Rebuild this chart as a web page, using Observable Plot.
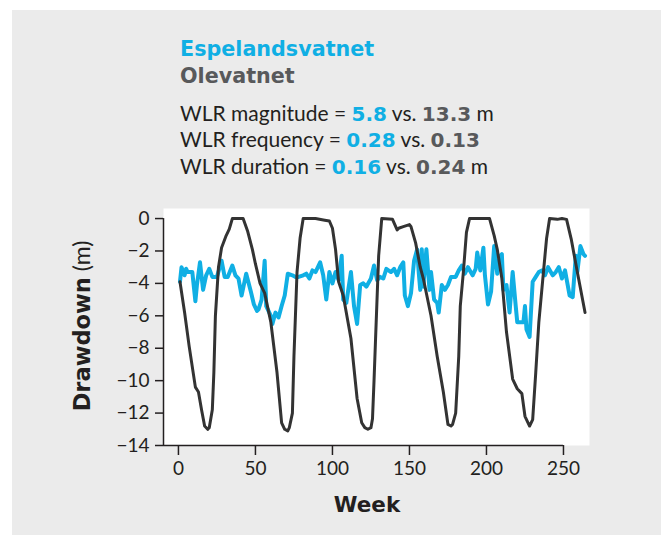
<!DOCTYPE html>
<html>
<head>
<meta charset="utf-8">
<script src="https://cdn.jsdelivr.net/npm/d3@7"></script>
<script src="https://cdn.jsdelivr.net/npm/@observablehq/plot@0.6"></script>
<style>
  body { margin: 0; background: #fff; }
  #wrap { position: relative; width: 661px; height: 535px; background: #fff; overflow: hidden; font-family: Lato, sans-serif; }
  #panel { position: absolute; left: 12px; top: 10px; width: 649px; height: 525px; background: #ebebeb; }
  .line { position: absolute; left: 180px; white-space: nowrap; line-height: 1; }
  .name { font-family: "DejaVu Sans", sans-serif; font-size: 20.7px; font-weight: bold; }
  .wlr { font-size: 21px; color: #231f20; }
  .wlr b { font-family: "DejaVu Sans", sans-serif; font-size: 20px; font-weight: bold; }
  .cb { color: #10afe4; }
  .cg { color: #58595b; }
  #chart { position: absolute; left: 0; top: 0; }
  #ylab { position: absolute; left: 82px; top: 326px; transform: translate(-50%, -50%) rotate(-90deg); white-space: nowrap; font-size: 23px; color: #231f20; line-height: 1; }
  #ylab b { font-family: "DejaVu Sans", sans-serif; font-weight: bold; font-size: 22.5px; }
  #xlab { position: absolute; left: 367px; top: 505px; transform: translate(-50%, -50%); font-family: "DejaVu Sans", sans-serif; font-size: 21.5px; font-weight: bold; color: #231f20; line-height: 1; }
</style>
</head>
<body>
<div id="wrap">
  <div id="panel"></div>
  <div class="line name cb" style="top:38.5px">Espelandsvatnet</div>
  <div class="line name cg" style="top:65.8px">Olevatnet</div>
  <div class="line wlr" style="top:102px">WLR magnitude = <b class="cb">5.8</b> vs. <b class="cg">13.3</b> m</div>
  <div class="line wlr" style="top:128px">WLR frequency = <b class="cb">0.28</b> vs. <b class="cg">0.13</b></div>
  <div class="line wlr" style="top:154.7px">WLR duration = <b class="cb">0.16</b> vs. <b class="cg">0.24</b> m</div>
  <div id="chart"></div>
  <div id="ylab"><b>Drawdown</b> (m)</div>
  <div id="xlab">Week</div>
</div>
<script>
// Espelandsvatnet (blue)
const weeksE = [1,2,4,5,6,9,11,12,14,16,18,20,22,25,28,30,32,35,37,39,41,44,47,49,51,52,54,56,57,60,61,63,65,67,69,71,74,76,78,81,83,85,87,89,92,94,96,98,100,102,104,106,107,109,112,114,116,118,120,122,125,127,129,131,133,135,138,140,142,144,146,147,149,151,153,155,156,157,158,159,160,161,163,164,166,168,169,171,173,175,177,180,182,184,186,188,191,193,194,196,198,199,201,203,205,207,209,210,211,213,215,217,219,220,222,224,225,226,228,230,232,234,236,238,240,243,245,247,249,251,254,256,258,259,261,263,264];
const drawE = [-3.9,-3.0,-3.5,-3.1,-3.3,-3.3,-5.1,-4.1,-2.7,-4.4,-3.5,-3.1,-3.6,-3.6,-2.6,-3.6,-3.6,-2.9,-3.5,-3.7,-4.75,-3.4,-4.5,-5.3,-5.7,-5.6,-5.0,-2.6,-5.4,-6.0,-6.5,-5.8,-6.1,-5.4,-4.75,-3.4,-3.5,-3.6,-3.6,-3.5,-3.4,-3.7,-3.2,-3.3,-2.7,-3.5,-5.0,-3.3,-4.0,-3.3,-3.8,-2.3,-5.0,-5.2,-3.3,-5.4,-6.5,-4.1,-4.0,-4.2,-3.7,-2.9,-3.8,-3.6,-3.7,-3.1,-3.3,-3.1,-3.5,-3.0,-2.7,-4.75,-5.4,-4.6,-2.6,-1.9,-3.3,-4.4,-1.9,-4.2,-3.0,-1.9,-4.4,-3.3,-5.0,-5.2,-5.8,-4.1,-4.4,-4.1,-3.6,-3.6,-3.2,-2.9,-3.4,-3.0,-3.5,-3.1,-2.1,-3.2,-1.8,-3.5,-5.3,-4.5,-1.7,-3.4,-2.3,-2.2,-4.4,-4.1,-5.8,-3.3,-5.4,-6.4,-6.4,-6.4,-5.4,-6.85,-7.3,-3.9,-3.6,-3.3,-3.2,-3.5,-3.0,-3.5,-3.3,-3.0,-3.7,-3.2,-4.75,-4.85,-2.3,-3.3,-1.7,-2.2,-2.3];
// Olevatnet (black)
const weeksO = [1,4,7,11,13,15,17,19,20,22,23,24,26,28,31,33,35,42,45,48,50,53,56,60,64,67,69,71,72,74,75,77,79,81,89,95,98,100,102,104,107,112,116,119,121,123,125,126,127,128,130,132,139,142,143,146,150,151,154,157,159,164,168,172,175,177,178,180,182,183,185,187,189,202,205,207,210,213,217,220,223,225,228,230,232,234,237,239,241,246,249,252,255,259,264];
const drawO = [-3.9,-5.8,-7.9,-10.4,-10.7,-11.8,-12.8,-13.0,-12.9,-11.8,-9.5,-6.0,-3.0,-1.8,-1.05,-0.65,0,0,-0.8,-1.9,-2.8,-4.0,-4.6,-6.4,-9.5,-12.6,-13.0,-13.1,-12.9,-12.0,-8.5,-3.3,-1.2,0,0,-0.1,-0.15,-0.6,-1.9,-3.9,-4.75,-7.4,-11.1,-12.6,-12.9,-13.0,-12.9,-12.35,-10,-7.4,-2.3,0,-0.05,-0.7,-0.6,-0.5,-0.37,-0.5,-1.5,-3.0,-3.7,-6.0,-8.5,-10.7,-12.7,-12.8,-12.7,-12.0,-8.5,-5.4,-3.3,-0.85,0,0,-1.05,-1.9,-3.7,-7.0,-9.9,-10.5,-10.8,-12.2,-12.8,-12.4,-9.5,-6.4,-3.3,-1.25,0,-0.05,0,-0.05,-1.25,-3.3,-5.8];
const xTicks = [0, 50, 100, 150, 200, 250];
const yTicks = [0, -2, -4, -6, -8, -10, -12, -14];
const xDomain = [-9.7, 266.9];
const yDomain = [-14, 0.62];

const dataE = weeksE.map((w, i) => ({week: w, drawdown: drawE[i]}));
const dataO = weeksO.map((w, i) => ({week: w, drawdown: drawO[i]}));

const chart = Plot.plot({
  width: 661, height: 535,
  marginLeft: 163, marginRight: 72, marginTop: 208, marginBottom: 90,
  x: {domain: xDomain},
  y: {domain: yDomain},
  style: {background: "none", fontFamily: "Lato, sans-serif", fontSize: "19px", color: "#231f20"},
  marks: [
    Plot.frame({fill: "white", stroke: null}),
    Plot.ruleX([xDomain[0]], {y1: yTicks[0], y2: yTicks[yTicks.length - 1], stroke: "#231f20", strokeWidth: 1.5}),
    Plot.ruleY([yTicks[yTicks.length - 1]], {x1: xDomain[0], x2: xTicks[xTicks.length - 1], stroke: "#231f20", strokeWidth: 1.5}),
    Plot.axisY({ticks: yTicks, tickSize: 8, tickPadding: 6, tickFormat: d3.format(""), label: null, strokeWidth: 1.5}),
    Plot.axisX({ticks: xTicks, tickSize: 10, tickPadding: 6, label: null, strokeWidth: 1.5}),
    Plot.lineY(dataE, {x: "week", y: "drawdown", stroke: "#10afe4", strokeWidth: 4}),
    Plot.lineY(dataO, {x: "week", y: "drawdown", stroke: "#333333", strokeWidth: 3})
  ]
});
document.getElementById("chart").appendChild(chart);
</script>
</body>
</html>
